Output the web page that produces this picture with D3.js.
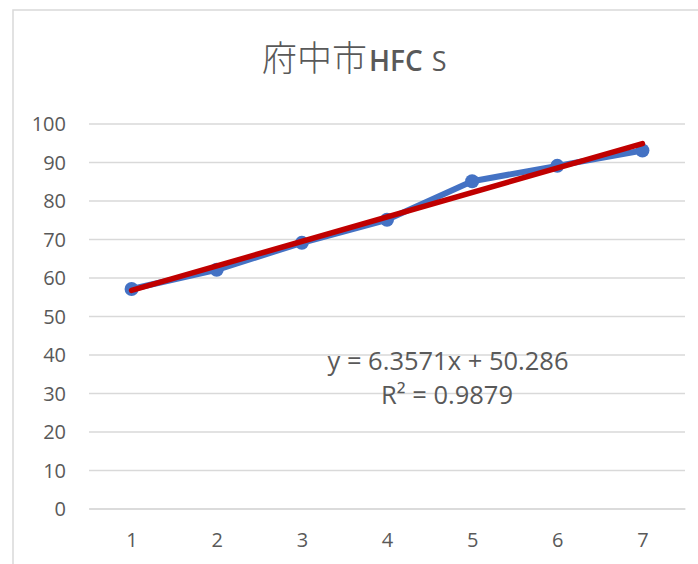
<!DOCTYPE html>
<html>
<head>
<meta charset="utf-8">
<script src="https://cdn.jsdelivr.net/npm/d3@7"></script>
<style>
  html, body { margin: 0; padding: 0; background: #fff; }
  svg { display: block; }
</style>
</head>
<body>
<svg id="chart" width="698" height="564"></svg>
<script>
// Data
const categories = [1, 2, 3, 4, 5, 6, 7];
const values = [57, 62, 69, 75, 85, 89, 93];
const yTicks = [0, 10, 20, 30, 40, 50, 60, 70, 80, 90, 100];
// Linear trend line as stated in its label
const slope = 6.3571;
const intercept = 50.286;
const rSquared = 0.9879;

const svg = d3.select("#chart");
const textColor = "#595959";
const gridColor = "#d9d9d9";
const font = "'Open Sans', 'Liberation Sans', sans-serif";

// Chart area frame
svg.append("rect")
  .attr("x", 13).attr("y", 10)
  .attr("width", 700).attr("height", 570)
  .attr("fill", "#fff")
  .attr("stroke", gridColor).attr("stroke-width", 1.5);

const plot = { left: 89, right: 685, top: 123.5, bottom: 508.5 };

const x = d3.scalePoint()
  .domain(categories)
  .range([plot.left, plot.right])
  .padding(0.5);

const y = d3.scaleLinear()
  .domain([0, 100])
  .range([plot.bottom, plot.top]);

// Value axis with horizontal gridlines
const yAxis = svg.append("g")
  .attr("transform", `translate(${plot.left},0)`)
  .call(d3.axisLeft(y)
    .tickValues(yTicks)
    .tickSize(-(plot.right - plot.left))
    .tickPadding(23)
    .tickFormat(d3.format("d")));
yAxis.select(".domain").remove();
yAxis.selectAll(".tick line")
  .attr("stroke", gridColor).attr("stroke-width", 1.5);
yAxis.selectAll(".tick text")
  .attr("fill", textColor)
  .attr("font-family", font)
  .attr("font-size", 20)
  .attr("dy", "0.36em");

// Category axis
const xAxis = svg.append("g")
  .attr("transform", `translate(0,${plot.bottom})`)
  .call(d3.axisBottom(x).tickSize(0).tickSizeOuter(0).tickPadding(24));
xAxis.select(".domain")
  .attr("stroke", gridColor).attr("stroke-width", 1.5);
xAxis.selectAll(".tick text")
  .attr("fill", textColor)
  .attr("font-family", font)
  .attr("font-size", 20);

// Series line and markers
const series = categories.map((c, i) => ({ c, v: values[i] }));
svg.append("path")
  .datum(series)
  .attr("fill", "none")
  .attr("stroke", "#4472C4")
  .attr("stroke-width", 6)
  .attr("stroke-linejoin", "round")
  .attr("d", d3.line().x(d => x(d.c)).y(d => y(d.v)));

svg.selectAll("circle.marker")
  .data(series)
  .join("circle")
  .attr("class", "marker")
  .attr("cx", d => x(d.c))
  .attr("cy", d => y(d.v))
  .attr("r", 7)
  .attr("fill", "#4472C4");

// Trend line
const first = categories[0], last = categories[categories.length - 1];
svg.append("line")
  .attr("x1", x(first)).attr("y1", y(slope * first + intercept))
  .attr("x2", x(last)).attr("y2", y(slope * last + intercept))
  .attr("stroke", "#C00000")
  .attr("stroke-width", 5.5)
  .attr("stroke-linecap", "round");

// Trend line equation and R²
const eq = svg.append("g")
  .attr("fill", textColor)
  .attr("font-family", font)
  .attr("font-size", 25.5)
  .attr("text-anchor", "middle");
eq.append("text").attr("x", 448).attr("y", 370)
  .text(`y = ${slope}x + ${intercept}`);
eq.append("text").attr("x", 447).attr("y", 404)
  .text(`R² = ${rSquared}`);

// Title
const title = svg.append("text")
  .attr("x", 262).attr("y", 71)
  .attr("fill", textColor);
title.append("tspan")
  .attr("font-family", "'Noto Sans CJK JP', sans-serif")
  .attr("font-size", 35)
  .attr("font-weight", 300)
  .text("府中市");
title.append("tspan")
  .attr("font-family", font)
  .attr("font-size", 28)
  .attr("font-weight", 600)
  .attr("dx", 2)
  .text("HFC");
title.append("tspan")
  .attr("font-family", font)
  .attr("font-size", 27)
  .attr("dx", 9)
  .text("S");
</script>
</body>
</html>
